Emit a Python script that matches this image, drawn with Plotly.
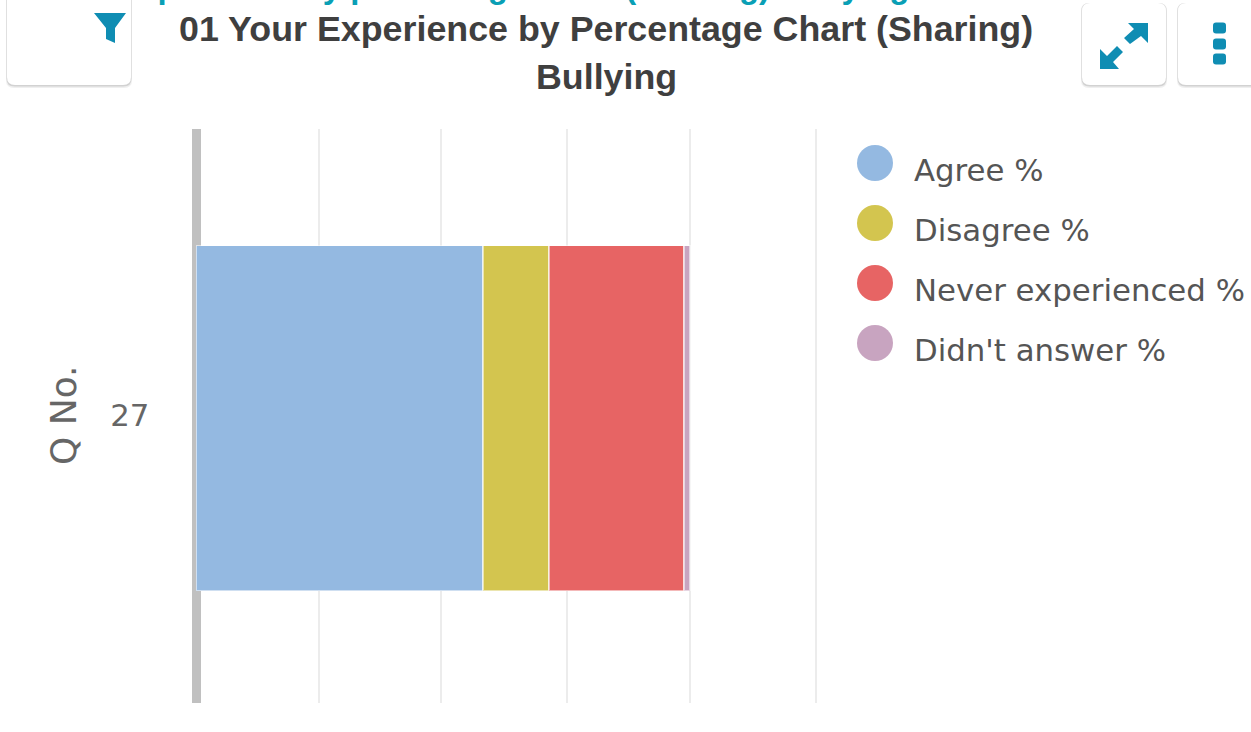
import plotly.graph_objects as go

W, H = 1251, 732
questions = ["27"]
series = ["Agree %", "Disagree %", "Never experienced %", "Didn't answer %"]
colors = ["#94b9e1", "#d3c54f", "#e76464", "#c8a4c0"]
agree = [58.1]
disagree = [13.4]
never = [27.3]
no_answer = [1.2]
values = [agree, disagree, never, no_answer]
x_ticks = [0, 24.9, 49.6, 75.1, 100, 125.6]
title_lines = ["01 Your Experience by Percentage Chart (Sharing)", "Bullying"]
clipped_heading = "Your experience by percentage chart (Sharing) Bullying"
TEAL = "#0f8db3"


def px(x):
    return x / W


def py(y):
    return 1 - y / H


fig = go.Figure()
for name, vals, col in zip(series, values, colors):
    fig.add_trace(go.Bar(y=questions, x=vals, name=name, orientation="h",
                         marker=dict(color=col, line=dict(color="rgba(255,255,255,0.55)", width=1.5)),
                         showlegend=False))

shapes = []
annotations = []

# legend
for i, (name, col) in enumerate(zip(series, colors)):
    cy = 163 + i * 60
    shapes.append(dict(type="circle", xref="paper", yref="paper", line=dict(width=0), fillcolor=col,
                       x0=px(857), x1=px(893), y0=py(cy + 18), y1=py(cy - 18)))
    annotations.append(dict(text=name, xref="paper", yref="paper", x=px(912), y=py(cy + 7),
                            xanchor="left", yanchor="middle", showarrow=False,
                            font=dict(family="DejaVu Sans", size=30.8, color="#555555")))


def rr(x0, y0, x1, y1, r):
    X0, X1, Y0, Y1 = px(x0), px(x1), py(y0), py(y1)
    rx, ry = r / W, r / H
    return (f"M{X0+rx},{Y0} L{X1-rx},{Y0} Q{X1},{Y0} {X1},{Y0-ry} L{X1},{Y1+ry} Q{X1},{Y1} {X1-rx},{Y1} "
            f"L{X0+rx},{Y1} Q{X0},{Y1} {X0},{Y1+ry} L{X0},{Y0-ry} Q{X0},{Y0} {X0+rx},{Y0} Z")


def card(x0, y0, x1, y1):
    r = 8
    for off, side, col in ((3, 1, "#efefef"), (1.5, 0.5, "#d2d2d2")):
        shapes.append(dict(type="path", xref="paper", yref="paper", fillcolor=col, line=dict(width=0),
                           path=rr(x0 - side, y0, x1 + side, y1 + off, r)))
    shapes.append(dict(type="path", xref="paper", yref="paper", fillcolor="white", line=dict(width=0),
                       path=rr(x0, y0, x1, y1, r)))


def poly(points, col=TEAL):
    d = "M" + " L".join(f"{px(x)},{py(y)}" for x, y in points) + " Z"
    shapes.append(dict(type="path", xref="paper", yref="paper", path=d, fillcolor=col, line=dict(width=0)))


card(7, -10, 131, 85)
card(1082, 3, 1166, 85)
card(1178, 3, 1262, 85)

# filter icon
poly([(94, 13), (126, 13), (115, 28), (115, 43), (106, 39), (106, 28)])
# expand icon
poly([(1128, 23), (1148, 23), (1148, 43), (1141, 36), (1130, 44), (1124, 38), (1134, 29)])
poly([(1100, 49), (1107, 56), (1117, 46), (1123, 52), (1113, 62), (1119, 69), (1100, 69)])
# dots icon
for cy in (28, 44, 59):
    shapes.append(dict(type="path", xref="paper", yref="paper", fillcolor=TEAL, line=dict(width=0),
                       path=rr(1213, cy - 5.5, 1226, cy + 5.5, 3)))

# headings
annotations.append(dict(text="<b>" + clipped_heading + "</b>", xref="paper", yref="paper", x=px(474), y=py(-13),
                        xanchor="center", yanchor="middle", showarrow=False,
                        font=dict(family="Liberation Sans", size=33, color="#0a9fb5")))
for line, cy in zip(title_lines, (29, 77)):
    annotations.append(dict(text="<b>" + line + "</b>", xref="paper", yref="paper", x=px(606), y=py(cy),
                            xanchor="center", yanchor="middle", showarrow=False,
                            font=dict(family="Liberation Sans", size=35.8, color="#3f3f3f")))

# y-axis title
annotations.append(dict(text="Q No.", xref="paper", yref="paper", x=px(63), y=py(415), textangle=-90,
                        xanchor="center", yanchor="middle", showarrow=False,
                        font=dict(family="DejaVu Sans", size=36, color="#666666")))

fig.update_layout(
    width=W, height=H, barmode="stack", bargap=0.399, showlegend=False,
    paper_bgcolor="white", plot_bgcolor="white",
    margin=dict(l=0, r=0, t=0, b=0, autoexpand=False),
    shapes=shapes, annotations=annotations,
    xaxis=dict(domain=[px(196), px(818.4)], range=[0, 126], tickvals=x_ticks, showticklabels=False,
               showgrid=True, gridcolor="#ececec", gridwidth=2, zeroline=False, showline=False, ticks=""),
    yaxis=dict(domain=[py(703), py(129)], type="category", range=[-0.4965, 0.5035],
               anchor="free", position=px(195.5), layer="below traces",
               showgrid=False, zeroline=False,
               showline=True, linecolor="#c0c0c0", linewidth=9, ticks="", ticklabelstandoff=36,
               ticklabelshift=-3,
               tickfont=dict(family="DejaVu Sans", size=30.8, color="#666666")),
)
fig.write_html("out.html", config={"displayModeBar": False},
               post_script="document.body.style.margin='0';document.body.style.overflow='hidden';")
